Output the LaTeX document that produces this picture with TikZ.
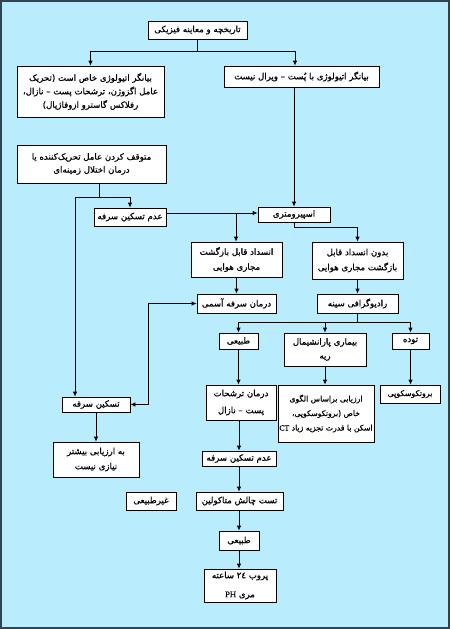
\documentclass[tikz,border=0pt]{standalone}
\usepackage{fontspec}
\usetikzlibrary{arrows.meta}
\TeXXeTstate=1
\newfontfamily\fafont[Script=Arabic, FakeBold=0.7]{DejaVu Sans}
\newfontfamily\latfont[FakeBold=0.4]{Liberation Serif}
\newcommand\rl[1]{\beginR #1\endR}
\newcommand\lt[1]{\beginL{\latfont #1}\endL{}}
\definecolor{bgblue}{HTML}{B9EDFD}
\definecolor{framecol}{HTML}{34444F}
\begin{document}
\begin{tikzpicture}[x=1pt,y=-1pt,
  box/.style={draw=black, fill=white, line width=0.8pt, inner sep=0pt, align=center,
    font=\fafont\fontsize{8.6}{14}\selectfont},
  conn/.style={draw=black, line width=0.8pt},
  arr/.style={conn, -{Latex[length=5pt,width=4.5pt]}},
  arrb/.style={conn, {Latex[length=5pt,width=4.5pt]}-{Latex[length=5pt,width=4.5pt]}}]

\useasboundingbox (0,0) rectangle (450,629);
\fill[framecol] (0,0) rectangle (450,629);
\fill[bgblue] (2,2) rectangle (448,627);

% nodes
\node[box, minimum width=99, minimum height=18] (A) at (197.5,30) {\rl{تاریخچه و معاینه فیزیکی}};
\node[box, minimum width=147, minimum height=51, font=\fafont\fontsize{8.6}{13.5}\selectfont] (B) at (90.5,91.5)
  {\rl{بیانگر اتیولوژی خاص است (تحریک}\\\rl{عامل اگزوژن، ترشحات پست – نازال،}\\\rl{رفلاکس گاسترو ازوفاژیال)}};
\node[box, minimum width=155, minimum height=21] (C) at (301.5,76.5) {\rl{بیانگر اتیولوژی با پُست – ویرال نیست}};
\node[box, minimum width=149, minimum height=38, font=\fafont\fontsize{8.6}{13}\selectfont] (D) at (91.5,164)
  {\rl{متوقف کردن عامل تحریک‌کننده یا}\\\rl{درمان اختلال زمینه‌ای}};
\node[box, minimum width=72, minimum height=18] (E) at (130,217) {\rl{عدم تسکین سرفه}};
\node[box, minimum width=72, minimum height=15] (F) at (294,214.5) {\rl{اسپیرومتری}};
\node[box, minimum width=91, minimum height=35, font=\fafont\fontsize{8.6}{15}\selectfont] (G) at (236.5,259.5)
  {\rl{انسداد قابل بازگشت}\\\rl{مجاری هوایی}};
\node[box, minimum width=91, minimum height=37, font=\fafont\fontsize{8.6}{15}\selectfont] (H) at (357.5,260.5)
  {\rl{بدون انسداد قابل}\\\rl{بازگشت مجاری هوایی}};
\node[box, minimum width=79, minimum height=19] (I) at (236.5,303.5) {\rl{درمان سرفه آسمی}};
\node[box, minimum width=81, minimum height=19] (J) at (357.5,303.5) {\rl{رادیوگرافی سینه}};
\node[box, minimum width=39, minimum height=16] (K) at (238.5,341) {\rl{طبیعی}};
\node[box, minimum width=82, minimum height=33] (L) at (325,349.5)
  {\rl{بیماری پارانشیمال}\\\rl{ریه}};
\node[box, minimum width=37, minimum height=16] (M) at (410.5,341) {\rl{توده}};
\node[box, minimum width=70, minimum height=35, font=\fafont\fontsize{8.6}{17}\selectfont] (N) at (241,402.5)
  {\rl{درمان ترشحات}\\\rl{پست – نازال}};
\node[box, minimum width=96, minimum height=57, font=\fafont\fontsize{7.7}{14.5}\selectfont] (O) at (326,413.5)
  {\rl{ارزیابی براساس الگوی}\\\rl{خاص (برونکوسکوپی،}\\\rl{اسکن با قدرت تجزیه زیاد \lt{CT}}};
\node[box, minimum width=60, minimum height=18, font=\fafont\fontsize{7.9}{14}\selectfont] (P) at (410,394) {\rl{برونکوسکوپی}};
\node[box, minimum width=68, minimum height=15] (Q) at (96,404.5) {\rl{تسکین سرفه}};
\node[box, minimum width=86, minimum height=35, font=\fafont\fontsize{8.6}{15}\selectfont] (R) at (96,459.5)
  {\rl{به ارزیابی بیشتر}\\\rl{نیازی نیست}};
\node[box, minimum width=74, minimum height=15] (S) at (239,458.5) {\rl{عدم تسکین سرفه}};
\node[box, minimum width=50, minimum height=18] (T) at (151,501) {\rl{غیرطبیعی}};
\node[box, minimum width=87, minimum height=18] (U) at (239.5,501) {\rl{تست چالش متاکولین}};
\node[box, minimum width=40, minimum height=19] (V) at (239,540.5) {\rl{طبیعی}};
\node[box, minimum width=72, minimum height=33, font=\fafont\fontsize{8.6}{19}\selectfont] (W) at (240,585.5)
  {\rl{پروب \beginL ۲٤\endL{} ساعته}\\\rl{مری \lt{PH}}};

% junction coordinates
\coordinate (jA) at (197.5,51);
\coordinate (xC) at (295,0);
\coordinate (jD) at (99,197);
\coordinate (qL) at (75,197);
\coordinate (jF) at (236,213);
\coordinate (jH) at (294,227);
\coordinate (jQ) at (148,404.5);
\coordinate (jJ) at (357.5,322);

% connectors
\draw[conn] (A.south) -- (jA);
\draw[arr] (jA) -| (B.north);
\draw[arr] (jA) -| (C.north -| xC);
\draw[arr] (C.south -| F.north) -- (F.north);
\draw[conn] (D.south -| jD) -- (jD);
\draw[arr] (jD) -| (E.north);
\draw[arr] (jD) -- (qL) -- (qL |- Q.north);
\draw[arr] (E.east |- jF) -- (F.west |- jF);
\draw[arr] (jF) -- (jF |- G.north);
\draw[arr] (F.south) -- (jH) -| (H.north);
\draw[arr] (G.south) -- (I.north);
\draw[arr] (H.south) -- (J.north);
\draw[arrb] (Q.east) -- (jQ) |- (I.west);
\draw[conn] (J.south) -- (jJ);
\draw[arr] (jJ) -| (K.north);
\draw[arr] (jJ) -| (L.north);
\draw[arr] (jJ) -| (M.north);
\draw[arr] (K.south) -- (K.south |- N.north);
\draw[arr] (L.south) -- (L.south |- O.north);
\draw[arr] (M.south) -- (M.south |- P.north);
\draw[arr] (Q.south) -- (R.north);
\draw[arr] (N.south -| S.north) -- (S.north);
\draw[arr] (S.south) -- (S.south |- U.north);
\draw[arr] (V.north |- U.south) -- (V.north);
\draw[arr] (V.south) -- (V.south |- W.north);
\end{tikzpicture}
\end{document}
